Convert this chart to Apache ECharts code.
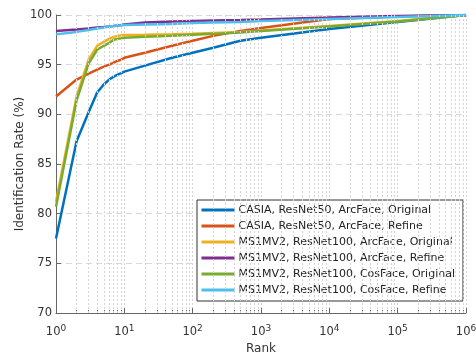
<!DOCTYPE html>
<html>
<head>
<meta charset="utf-8">
<script src="https://cdn.jsdelivr.net/npm/echarts@6/dist/echarts.min.js"></script>
<style>html,body{margin:0;padding:0;background:#fff;}#c{width:476px;height:356px;}</style>
</head>
<body>
<div id="c"></div>
<script>
var ranks = [1,2,3,4,5,6,7,8,9,10,20,50,100,200,500,1000,10000,100000,1000000];
var seriesNames = [
  'CASIA, ResNet50, ArcFace, Original',
  'CASIA, ResNet50, ArcFace, Refine',
  'MS1MV2, ResNet100, ArcFace, Original',
  'MS1MV2, ResNet100, ArcFace, Refine',
  'MS1MV2, ResNet100, CosFace, Original',
  'MS1MV2, ResNet100, CosFace, Refine'
];
var casiaOriginal = [77.5,87.3,90.2,92.2,93.0,93.5,93.8,94.0,94.15,94.3,94.9,95.7,96.2,96.7,97.4,97.7,98.6,99.3,100];
var casiaRefine   = [91.8,93.5,94.1,94.5,94.8,95.0,95.2,95.4,95.5,95.7,96.2,96.9,97.4,97.9,98.4,98.7,99.6,99.85,100];
var msArcOriginal = [81.2,91.8,95.5,96.9,97.3,97.6,97.8,97.9,97.95,97.98,98.0,98.05,98.1,98.2,98.3,98.45,98.9,99.4,100];
var msArcRefine   = [98.4,98.55,98.65,98.75,98.8,98.85,98.9,98.95,99.0,99.05,99.25,99.35,99.4,99.45,99.5,99.55,99.75,99.9,100];
var msCosOriginal = [80.7,91.4,95.1,96.5,96.9,97.2,97.5,97.6,97.65,97.7,97.8,97.9,98.0,98.1,98.25,98.4,98.85,99.35,100];
var msCosRefine   = [98.05,98.3,98.5,98.65,98.75,98.85,98.9,98.95,98.97,99.0,99.05,99.1,99.2,99.25,99.3,99.4,99.6,99.8,100];
var allValues = [casiaOriginal, casiaRefine, msArcOriginal, msArcRefine, msCosOriginal, msCosRefine];
var colors = ['#0072BD','#D95319','#EDB120','#7E2F8E','#77AC30','#4DBEEE'];
var yTicks = [70,75,80,85,90,95,100];

var minorRanks = [];
for (var k = 0; k < 6; k++) {
  for (var m = 2; m <= 9; m++) minorRanks.push(m * Math.pow(10, k));
}

var font = '"DejaVu Sans", sans-serif';
var series = allValues.map(function (vals, i) {
  return {
    name: seriesNames[i],
    type: 'line',
    symbol: 'none',
    smooth: false,
    lineStyle: { width: 2.5, color: colors[i] },
    itemStyle: { color: colors[i] },
    data: ranks.map(function (r, j) { return [r, vals[j]]; }),
    z: 3
  };
});
series.unshift({
  type: 'line',
  data: [],
  silent: true,
  z: 1,
  markLine: {
    silent: true,
    symbol: 'none',
    animation: false,
    label: { show: false },
    lineStyle: { color: '#d4d4d4', type: [2, 2], width: 1 },
    data: minorRanks.map(function (r) { return { xAxis: r }; })
  }
});
series.unshift({
  type: 'line',
  data: [],
  silent: true,
  z: 2,
  markLine: {
    silent: true,
    symbol: 'none',
    animation: false,
    label: { show: false },
    lineStyle: { color: '#666', type: 'solid', width: 1 },
    data: minorRanks.map(function (r) { return [{ coord: [r, 70] }, { coord: [r, 70.3] }]; })
  }
});

var chart = echarts.init(document.getElementById('c'), null, { renderer: 'canvas' });
chart.setOption({
  animation: false,
  backgroundColor: '#fff',
  color: colors,
  grid: { left: 56, right: 10, top: 15, bottom: 43, containLabel: false, outerBoundsMode: 'none' },
  xAxis: {
    type: 'log',
    logBase: 10,
    min: 1,
    max: 1000000,
    name: 'Rank',
    nameLocation: 'middle',
    nameGap: 30,
    nameMoveOverlap: false,
    nameTextStyle: { fontFamily: font, fontSize: 12, color: '#333' },
    axisLine: { show: true, lineStyle: { color: '#666', width: 1 } },
    axisTick: { show: true, inside: true, length: 5, lineStyle: { color: '#666' } },
    splitLine: { show: true, lineStyle: { color: '#d4d4d4', type: [2, 2], width: 1 } },
    axisLabel: {
      margin: 11,
      fontFamily: font,
      fontSize: 11.5,
      color: '#333',
      formatter: function (v) {
        var e = Math.round(Math.log10(v));
        return '10{sup|' + e + '}';
      },
      rich: {
        sup: { fontSize: 9, verticalAlign: 'top', padding: [0, 0, 8, 0], fontFamily: font, color: '#333' }
      }
    }
  },
  yAxis: {
    type: 'value',
    min: 70,
    max: 100,
    interval: 5,
    name: 'Identification Rate (%)',
    nameLocation: 'middle',
    nameGap: 30,
    nameMoveOverlap: false,
    nameTextStyle: { fontFamily: font, fontSize: 12, color: '#333' },
    axisLine: { show: true, lineStyle: { color: '#666', width: 1 } },
    axisTick: { show: true, inside: true, length: 5, lineStyle: { color: '#666' } },
    splitLine: { show: true, lineStyle: { color: '#d9d9d9', type: [6, 4], width: 1 } },
    axisLabel: { fontFamily: font, fontSize: 11.5, color: '#333', margin: 4 }
  },
  legend: {
    data: seriesNames,
    orient: 'vertical',
    left: 197,
    top: 200,
    padding: [4, 8, 5, 3],
    itemGap: 4,
    itemWidth: 33,
    itemHeight: 12,
    borderColor: '#333',
    borderWidth: 1,
    borderRadius: 0,
    backgroundColor: '#fff',
    textStyle: { fontFamily: font, fontSize: 11, lineHeight: 12, color: '#222', padding: [0, 0, 0, -1] },
    itemStyle: { opacity: 0 },
    lineStyle: { width: 3 }
  },
  series: series
});
</script>
</body>
</html>
